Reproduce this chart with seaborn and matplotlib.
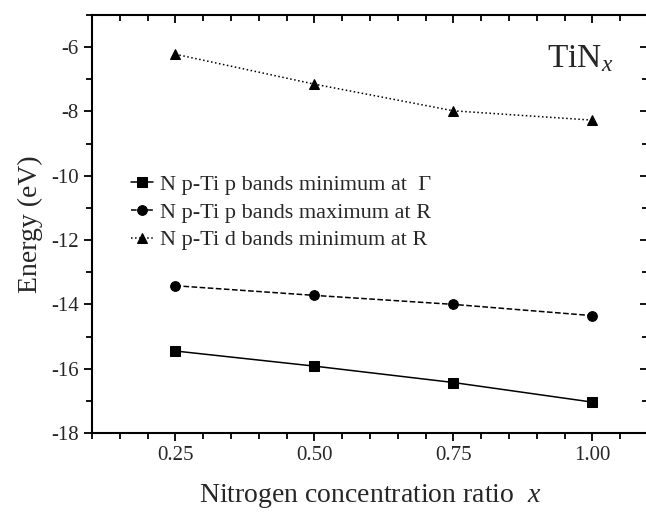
import matplotlib
matplotlib.use('Agg')
import matplotlib.pyplot as plt
from matplotlib.ticker import MultipleLocator, FixedLocator
import numpy as np
import pandas as pd
import seaborn as sns

## Data
x_ratio = [0.25, 0.50, 0.75, 1.00]
pp_min_gamma = [-15.45, -15.92, -16.43, -17.04]
pp_max_R = [-13.42, -13.72, -14.00, -14.35]
pd_min_R = [-6.22, -7.15, -7.98, -8.27]
labels = ['N p-Ti p bands minimum at  \u0393',
          'N p-Ti p bands maximum at R',
          'N p-Ti d bands minimum at R']
x_ticks = [0.25, 0.50, 0.75, 1.00]
x_ticklabels = ['0.25', '0.50', '0.75', '1.00']

##########################################################################

sns.set_style('ticks')
plt.rcParams['font.family'] = ['Liberation Serif', 'DejaVu Serif']
plt.rcParams['mathtext.fontset'] = 'custom'
plt.rcParams['mathtext.rm'] = 'Liberation Serif'
plt.rcParams['mathtext.it'] = 'Liberation Serif:italic'
plt.rcParams['axes.unicode_minus'] = False

fig = plt.figure(figsize=(6.46, 5.12), dpi=100)
ax = fig.add_axes([0.1424, 0.1543, 0.8607, 0.8164])

series = [pp_min_gamma, pp_max_R, pd_min_R]
styles = ['-', '--', ':']
marks = ['s', 'o', '^']
for vals, ls, mk, lab in zip(series, styles, marks, labels):
    sns.lineplot(x=x_ratio, y=vals, ax=ax, color='black', linestyle=ls,
                 marker=mk, markersize=7, markeredgecolor='black',
                 linewidth=1.1, label=lab)

ax.set_xlim(0.1, 1.1)
ax.set_ylim(-18, -5)
ax.xaxis.set_major_locator(FixedLocator(x_ticks))
ax.set_xticklabels(x_ticklabels)
ax.xaxis.set_minor_locator(MultipleLocator(0.05))
ax.yaxis.set_major_locator(MultipleLocator(2))
ax.yaxis.set_minor_locator(MultipleLocator(1))

for side in ['top', 'right', 'bottom', 'left']:
    ax.spines[side].set_visible(True)
    ax.spines[side].set_linewidth(1.5)
    ax.spines[side].set_color('black')

ax.tick_params(axis='both', which='major', direction='out', length=6, width=1.3,
               labelsize=15, color='black')
ax.tick_params(axis='both', which='minor', direction='out', length=4, width=1.3, color='black')
ax.tick_params(axis='x', which='both', top=True)
ax.tick_params(axis='y', which='both', right=True)

# mirrored ticks point inward
for t in ax.xaxis.get_major_ticks() + ax.xaxis.get_minor_ticks():
    t.tick2line.set_marker(3)
for t in ax.yaxis.get_major_ticks() + ax.yaxis.get_minor_ticks():
    t.tick2line.set_marker(0)

ax.set_xlabel('Nitrogen concentration ratio  $x$', fontsize=20, labelpad=12)
ax.set_ylabel('Energy (eV)', fontsize=20, labelpad=6)

ax.text(0.937, -6.37, 'TiN$_x$', fontsize=24, ha='right', va='center',
        transform=ax.get_yaxis_transform())

ax.legend(loc='upper left', bbox_to_anchor=(0.05, 0.645), frameon=False,
          fontsize=16, handlelength=1.0, handletextpad=0.3, labelspacing=0.32,
          borderpad=0)

fig.savefig('out.png', dpi=100)
